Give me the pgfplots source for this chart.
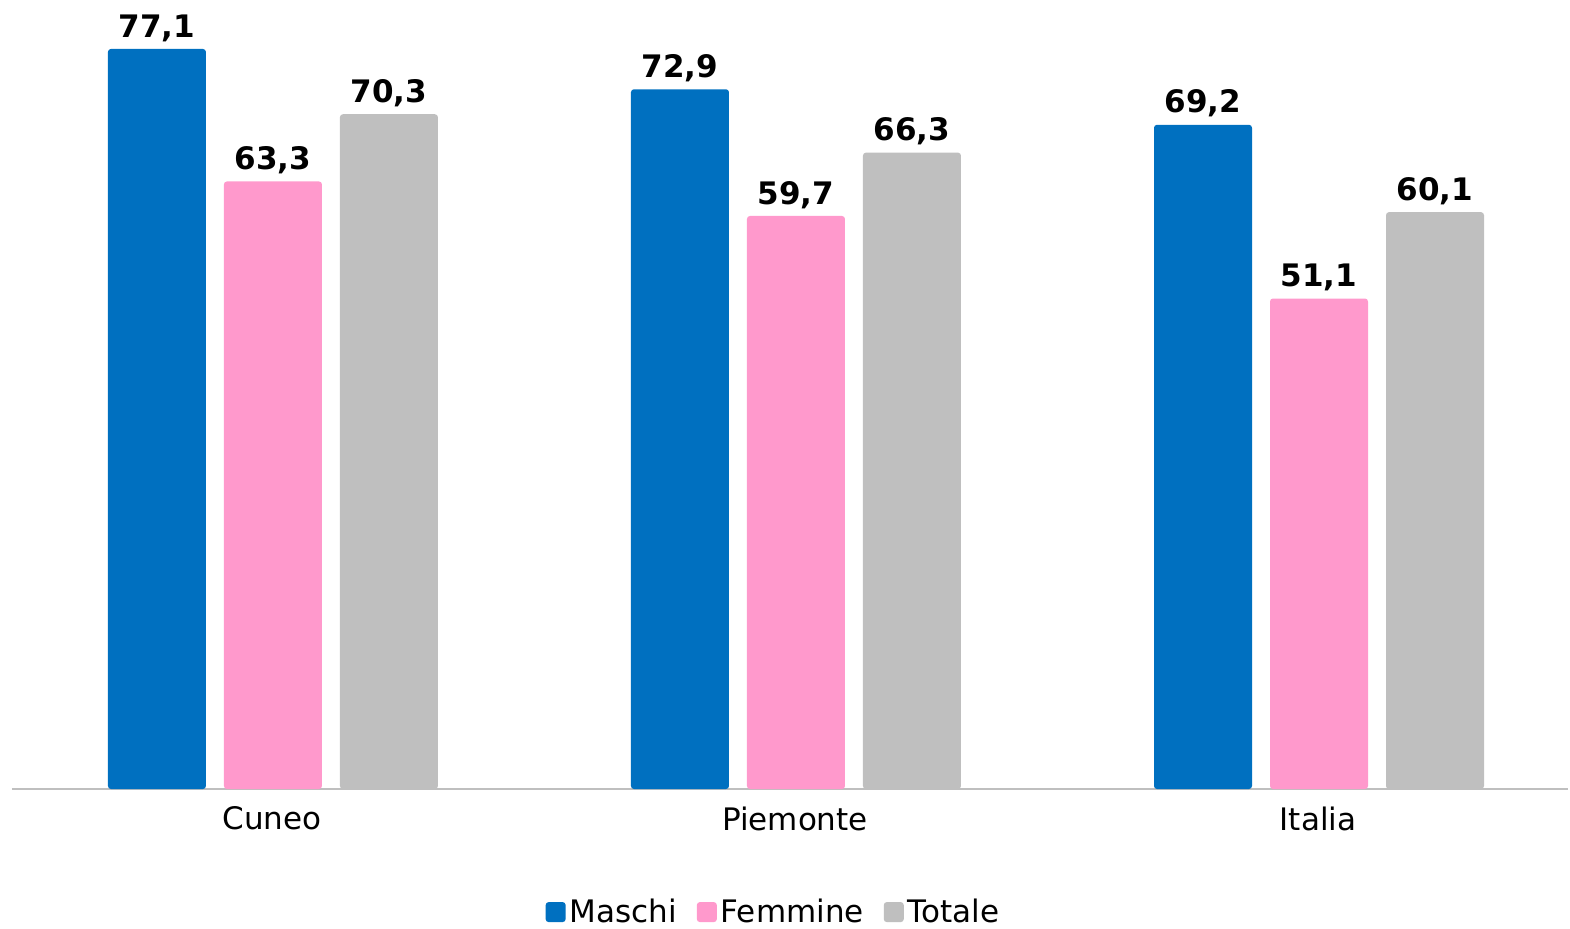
\documentclass[border=0pt]{standalone}
\usepackage{pgfplots}
\pgfplotsset{compat=1.18}
\usepackage{fontspec}
\setmainfont{DejaVu Sans}
\definecolor{cblu}{HTML}{0070C0}
\definecolor{crosa}{HTML}{FF99CC}
\definecolor{cgrigio}{HTML}{BFBFBF}

\begin{document}
\begin{tikzpicture}
\begin{axis}[
  scale only axis,
  width=778pt, height=394.5pt,
  xmin=-0.497, xmax=2.478,
  ymin=0, ymax=82.2,
  ybar=9pt, bar width=49pt,
  axis x line*=bottom,
  axis y line=none,
  axis line style={cgrigio, line width=0.8pt},
  xtick=data,
  xticklabels={Cuneo,Piemonte,Italia},
  xtick style={draw=none},
  xticklabel style={font=\fontsize{15.5}{18}\selectfont, yshift=-1pt},
  nodes near coords={\pgfmathprintnumber[fixed, fixed zerofill, precision=1, use comma, assume math mode=true]{\pgfplotspointmeta}},
  nodes near coords style={font=\fontsize{15.5}{18}\selectfont\bfseries, inner sep=0pt, yshift=3.5pt, anchor=south},
  legend style={at={(0.49,-0.156)}, anchor=center, draw=none, legend columns=-1,
    font=\fontsize{15.5}{18}\selectfont, /tikz/every even column/.append style={column sep=8pt}},
  legend image code/.code={\fill[#1] (1pt,-5pt) rectangle (11pt,5pt);},
]
\addplot[fill=cblu, draw=none, rounded corners=1.5pt, xshift=0.5pt] coordinates {(0,77.1) (1,72.9) (2,69.2)};
\addplot[fill=crosa, draw=none, rounded corners=1.5pt, xshift=0.5pt] coordinates {(0,63.3) (1,59.7) (2,51.1)};
\addplot[fill=cgrigio, draw=none, rounded corners=1.5pt, xshift=0.5pt] coordinates {(0,70.3) (1,66.3) (2,60.1)};
\legend{Maschi,Femmine,Totale}
\end{axis}
\pgfresetboundingbox
\path[use as bounding box] (-6pt,-69.5pt) rectangle (779pt,394.5pt);
\end{tikzpicture}
\end{document}
